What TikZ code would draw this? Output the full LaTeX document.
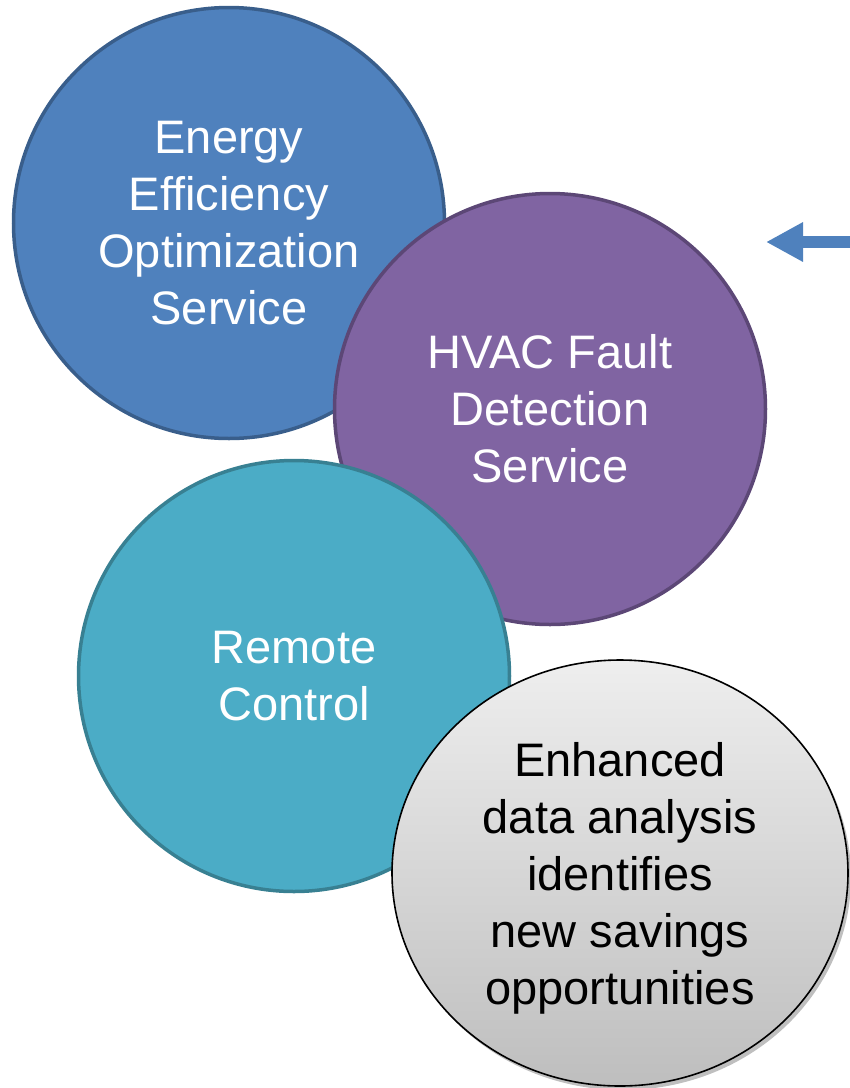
\documentclass[tikz,border=0pt]{standalone}
\usepackage{fontspec}
\setmainfont{Liberation Sans}
\usepackage{tikz}
\usetikzlibrary{shapes.geometric, arrows.meta, shadows}
\def\circlesize{431pt}
\definecolor{energy}{RGB}{79, 129, 189}
\definecolor{energy-line}{RGB}{57, 94, 139}
\definecolor{fault}{RGB}{128, 100, 162}
\definecolor{fault-line}{RGB}{92, 71, 118}
\definecolor{remote}{RGB}{75, 172, 198}
\definecolor{remote-line}{RGB}{56, 128, 146}
\definecolor{analysis-top}{RGB}{238, 238, 238}
\definecolor{analysis-bottom}{RGB}{190, 190, 190}
\tikzstyle{arrow} = [energy, -{Triangle[length=37pt, width=37pt]}, line width=12pt]
\newcommand{\tikzservicenode}[2]{\node[
  draw=#2, fill=#1, circle, line width=3.5pt, minimum size=\circlesize, inner sep=0, text=white, align=center,
  font=\fontsize{47pt}{57pt}\selectfont
]}

\begin{document}
\begin{tikzpicture}[x=1pt, y=-1pt]
    \useasboundingbox (0, 0) rectangle (850, 1088);

    % nodes
    \tikzservicenode{energy}{energy-line} at (229, 223) (energy) {Energy\\Efficiency\\Optimization\\Service};
    \tikzservicenode{fault}{fault-line}   at (550, 409) (fault)  {HVAC Fault\\Detection\\Service};
    \tikzservicenode{remote}{remote-line} at (294, 676) (remote) {Remote\\Control};
    \node[
      draw=black, line width=1.6pt, ellipse, minimum width=456pt, minimum height=426pt, inner sep=0,
      top color=analysis-top, bottom color=analysis-bottom,
      drop shadow={shadow xshift=3pt, shadow yshift=-4pt, opacity=0.25, fill=black},
      align=center, text depth=0pt, font=\fontsize{47pt}{57pt}\selectfont
    ] at (620, 873) (analysis) {Enhanced\\data analysis\\identifies\\new savings\\opportunities};

    % arrows
    \coordinate (arrowtail) at (850, 242);
    \coordinate (arrowtip)  at (766, 242);
    \draw[arrow] (arrowtail) -- (arrowtip);
  \end{tikzpicture}
\end{document}
